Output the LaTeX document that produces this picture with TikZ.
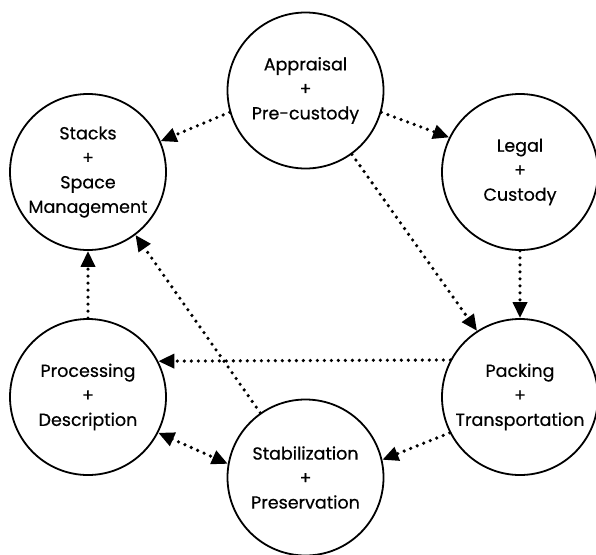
\documentclass[tikz,border=0pt]{standalone}
\usepackage{fontspec}
\setmainfont{Poppins}[FakeBold=0.5]
\usetikzlibrary{arrows.meta}
\begin{document}
\begin{tikzpicture}[x=1pt,y=-1pt,
  stage/.style={circle,draw,line width=1.8pt,minimum size=156pt,inner sep=0pt},
  txt/.style={align=center,font=\fontsize{17.5}{24.5}\selectfont},
  tip/.tip={Triangle[length=16pt,width=14pt]},
  flow/.style={line width=3.6pt,line cap=round,dash pattern=on 0pt off 7pt,-tip},
  flowboth/.style={flow,tip-tip}]
\useasboundingbox (0,0) rectangle (596,554);
\node[stage,label={[txt]center:Appraisal\\+\\Pre-custody}] (A) at (305.5,90.5) {};
\node[stage,label={[txt]center:Stacks\\+\\Space\\Management}] (S) at (88,172) {};
\node[stage,label={[txt]center:Legal\\+\\Custody}] (L) at (520,172) {};
\node[stage,label={[txt]center:Processing\\+\\Description}] (Pr) at (88,397) {};
\node[stage,label={[txt]center:Packing\\+\\Transportation}] (Pk) at (520,397) {};
\node[stage,label={[txt]center:Stabilization\\+\\Preservation}] (St) at (305.5,477.5) {};
\draw[flow] (A.196.6) -- (S.23.4);
\draw[flow] (A.-16.6) -- (L.154.4);
\draw[flow] (A.-54.8) -- (Pk.123.7);
\draw[flow] (L.south) -- (Pk.north);
\draw[flow] (Pk.152.5) -- (Pr.27.5);
\draw[flow] (Pk.207.6) -- (St.13.7);
\draw[flowboth] (Pr.-27.9) -- (St.170.9);
\draw[flow] (St.125.1) -- (S.-53.3);
\draw[flow] (Pr.north) -- (S.south);
\end{tikzpicture}
\end{document}
